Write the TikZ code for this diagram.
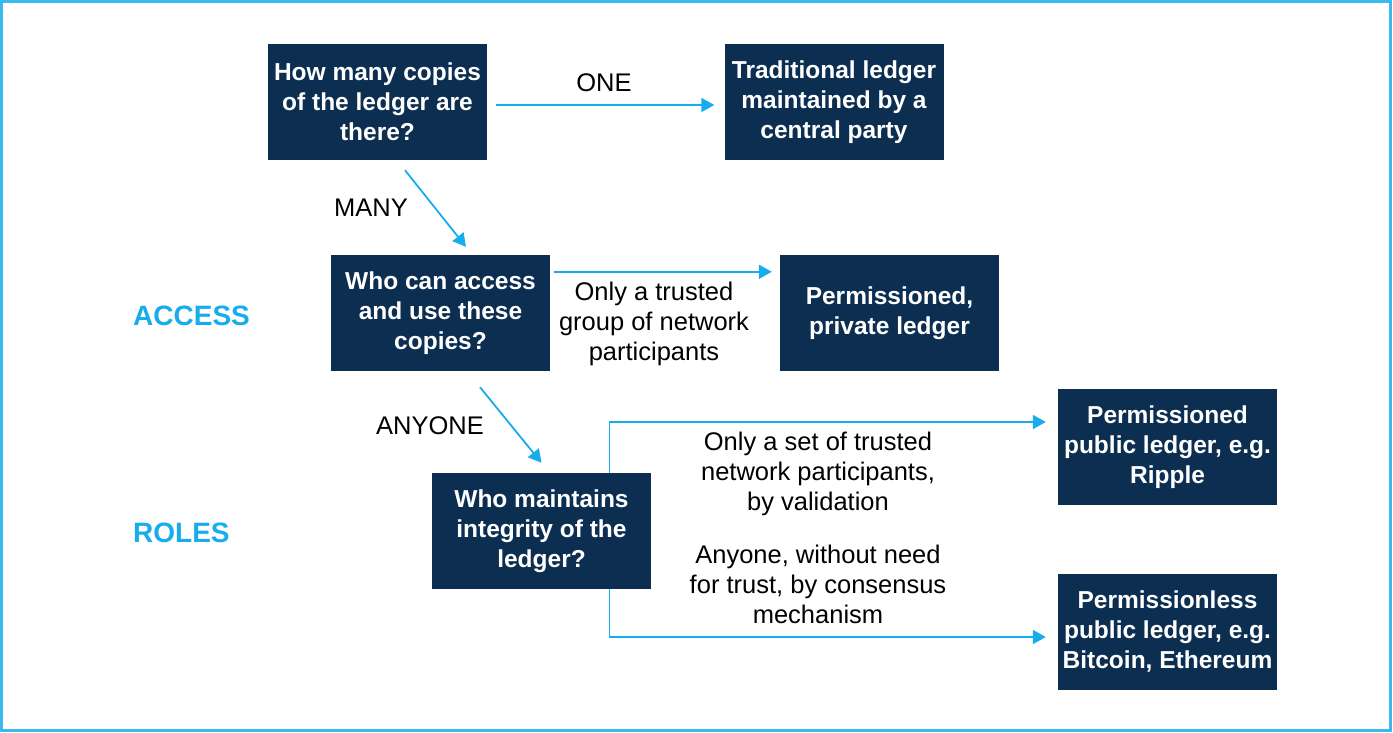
\documentclass[tikz,border=0pt]{standalone}
\usepackage{fontspec}
\setmainfont{Liberation Sans}
\usetikzlibrary{arrows.meta,positioning}
\definecolor{navy}{HTML}{0B2E51}
\definecolor{sky}{HTML}{17ADEC}

\begin{document}
\begin{tikzpicture}[x=1pt,y=-1pt,>={Triangle[length=13pt,width=14pt]},
                    box/.style={fill=navy,text=white,font=\bfseries\fontsize{24.5}{30}\selectfont,
                                minimum width=219pt,minimum height=116pt,inner sep=0pt,align=center},
                    lbl/.style={font=\fontsize{25.5}{30}\selectfont,align=center,inner sep=0pt},
                    cat/.style={font=\bfseries\fontsize{28}{34}\selectfont,text=sky,anchor=west,inner sep=0pt},
                    flow/.style={->,draw=sky,line width=1.8pt}]
  \useasboundingbox (0,0) rectangle (1393,732);
  \draw[sky!85,line width=2.5pt] (1.5,1.5) rectangle (1390.5,730.5);

  \node[cat] (access) at (133,316) {ACCESS};
  \node[cat] (roles)  at (133,533) {ROLES};

  \node[box] (q1)     at (377.5,102) {How many copies\\of the ledger are\\there?};
  \node[box] (trad)   at (834,102)   {Traditional ledger\\maintained by a\\central party};
  \node[box] (q2)     at (440.5,313) {Who can access\\and use these\\copies?};
  \node[box] (priv)   at (889.5,313) {Permissioned,\\private ledger};
  \node[box] (q3)     at (541.5,531) {Who maintains\\integrity of the\\ledger?};
  \node[box] (ripple) at (1167.5,447) {Permissioned\\public ledger, e.g.\\Ripple};
  \node[box] (btc)    at (1167.5,632) {Permissionless\\public ledger, e.g.\\Bitcoin, Ethereum};

  % edge labels
  \node[lbl] (one)    at (604,83)  {ONE};
  \node[lbl] (many)   at (371,208) {MANY};
  \node[lbl] (anyone) at (430,426) {ANYONE};
  \node[lbl] (group)  at (654,324) {Only a trusted\\group of network\\participants};
  \node[lbl] (valid)  at (818,474) {Only a set of trusted\\network participants,\\by validation};
  \node[lbl] (cons)   at (818,584) {Anyone, without need\\for trust, by consensus\\mechanism};

  \draw[flow] ([xshift=9pt,yshift=-3pt]q1.east) -- ([xshift=-10pt,yshift=-3pt]trad.west);
  \draw[flow] ([xshift=27.5pt,yshift=-10pt]q1.south) -- ([xshift=25.5pt,yshift=8pt]q2.north);
  \draw[flow] ([xshift=4pt,yshift=-17pt]q2.north east) -- ([xshift=-8pt,yshift=-17pt]priv.north west);
  \draw[flow] ([xshift=39.5pt,yshift=-16pt]q2.south) -- ([xshift=0pt,yshift=10pt]q3.north);
  \draw[flow] ([xshift=68pt]q3.north) |- ([xshift=-12pt,yshift=25pt]ripple.west);
  \draw[flow] ([xshift=68pt]q3.south) |- ([xshift=-12pt,yshift=-5pt]btc.west);

\end{tikzpicture}
\end{document}
